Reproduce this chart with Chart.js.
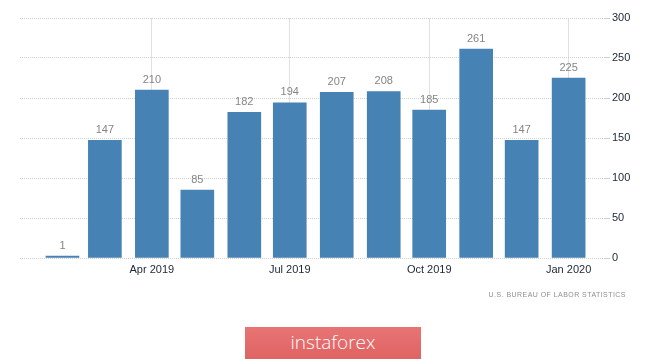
<!DOCTYPE html>
<html><head><meta charset="utf-8">
<script src="https://cdn.jsdelivr.net/npm/chart.js@4"></script>
<style>
html,body{margin:0;padding:0;background:#fff;width:665px;height:359px;overflow:hidden;font-family:"Liberation Sans",Arial,sans-serif}
#wrap{position:absolute;left:0;top:0;width:665px;height:300px}
#src{position:absolute;left:0;width:626px;text-align:right;top:291px;font-size:7px;letter-spacing:0.45px;color:#8f8f8f}
#logo{position:absolute;left:245px;top:327px;width:176px;height:32px;background:linear-gradient(#e97474,#df6363);color:#fff;font-size:19px;text-align:center;line-height:31px;font-family:"Open Sans","Liberation Sans",sans-serif;font-weight:300}
</style></head><body>
<div id="wrap"><canvas id="c"></canvas></div>
<div id="src">U.S. BUREAU OF LABOR STATISTICS</div>
<div id="logo">instaforex</div>
<script>
const months=['2019-02','2019-03','2019-04','2019-05','2019-06','2019-07','2019-08','2019-09','2019-10','2019-11','2019-12','2020-01'];
const values=[1,147,210,85,182,194,207,208,185,261,147,225];
const tickMonths=['2019-04','2019-07','2019-10','2020-01'];
const tickLabels=['Apr 2019','Jul 2019','Oct 2019','Jan 2020'];
const yMin=0, yMax=300, yStep=50;

const base=Date.UTC(2019,1,1);
const day=s=>{const p=s.split('-').map(Number);return (Date.UTC(p[0],p[1]-1,1)-base)/86400000;};
const points=months.map((m,i)=>({x:day(m),y:values[i]}));
const tickDays=tickMonths.map(day);

const labelPlugin={id:'vals',afterDatasetsDraw(chart){
  const ctx=chart.ctx;const meta=chart.getDatasetMeta(0);
  ctx.save();ctx.fillStyle='#858585';ctx.font='11px "Liberation Sans", Arial, sans-serif';
  ctx.textAlign='center';ctx.textBaseline='bottom';
  meta.data.forEach((b,i)=>{ctx.fillText(String(values[i]),b.x,b.y-5);});
  ctx.restore();
}};

new Chart(document.getElementById('c'),{
  type:'bar',
  data:{datasets:[{data:points,backgroundColor:'#4682b4',borderWidth:0,barThickness:33,minBarLength:2}]},
  options:{
    responsive:true,maintainAspectRatio:false,animation:false,
    layout:{padding:{left:20,top:18,right:0,bottom:0}},
    plugins:{legend:{display:false},tooltip:{enabled:false}},
    scales:{
      x:{type:'linear',min:-28,max:358,offset:false,
        afterBuildTicks:s=>{s.ticks=tickDays.map(v=>({value:v}));},
        afterFit:s=>{s.height=42;},
        ticks:{autoSkip:false,maxRotation:0,padding:5,color:'#1c2636',font:{size:11,family:'"Liberation Sans", Arial, sans-serif'},
          callback:v=>{const i=tickDays.indexOf(v);return i>=0?tickLabels[i]:'';}},
        grid:{color:'#e0e0e0',drawTicks:false,offset:false},
        border:{display:false}
      },
      y:{position:'right',min:yMin,max:yMax,
        afterFit:s=>{s.width=60;},
        ticks:{stepSize:yStep,padding:2,color:'#1c2636',font:{size:11,family:'"Liberation Sans", Arial, sans-serif'}},
        grid:{color:'#cfcfcf',tickLength:5},
        border:{display:false,dash:[1,1]}
      }
    }
  },
  plugins:[labelPlugin]
});
</script>
</body></html>
